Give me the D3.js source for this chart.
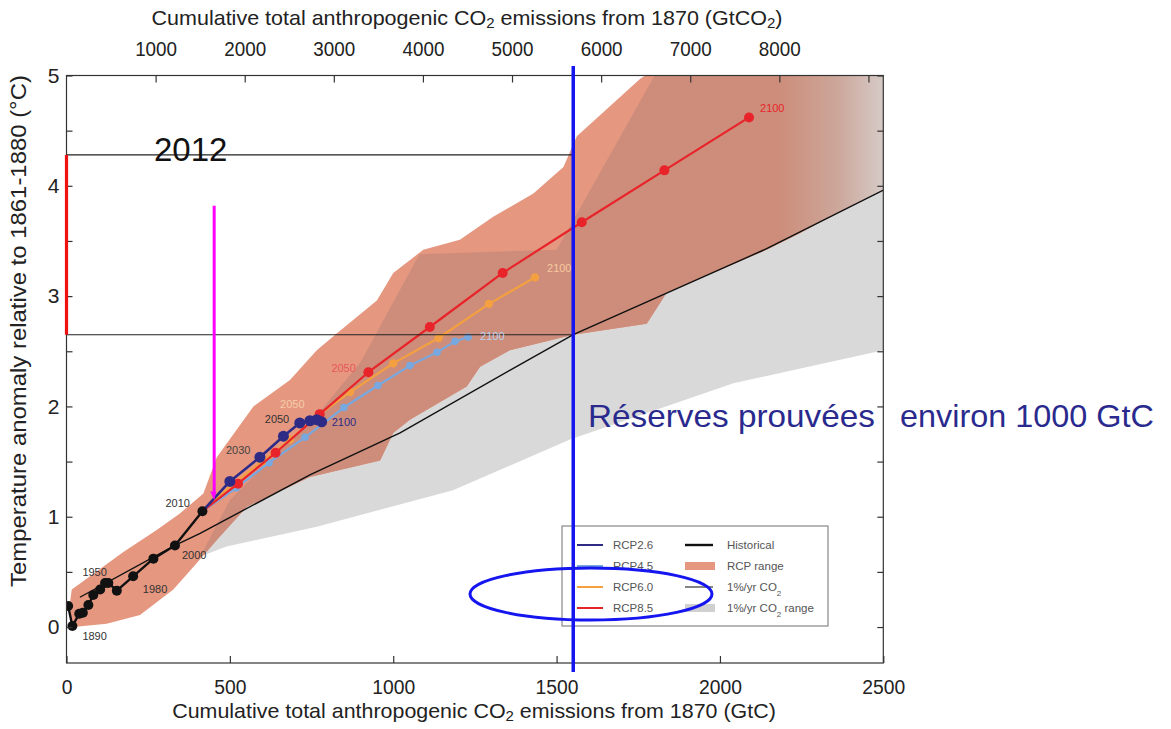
<!DOCTYPE html>
<html>
<head>
<meta charset="utf-8">
<script src="https://cdn.jsdelivr.net/npm/d3@7"></script>
<style>
  html, body { margin: 0; padding: 0; background: #fff; }
  svg { display: block; font-family: "Liberation Sans", Arial, Helvetica, sans-serif; }
</style>
</head>
<body>
<script>
// ---- data (cumulative CO2 since 1870 in GtC, temperature anomaly in °C) ----
const xTicksGtC = [0, 500, 1000, 1500, 2000, 2500];
const xTicksGtCO2 = [1000, 2000, 3000, 4000, 5000, 6000, 7000, 8000, 9000];
const xLabelsGtCO2 = ["1000", "2000", "3000", "4000", "5000", "6000", "7000", "8000", ""];
const yTicks = [0, 0.5, 1, 1.5, 2, 2.5, 3, 3.5, 4, 4.5, 5];

const historical = [[5, 0.19], [18, 0.01], [39, 0.12], [50, 0.13], [67, 0.20], [82, 0.29],
  [103, 0.34], [118, 0.40], [128, 0.40], [154, 0.33], [204, 0.46], [266, 0.62], [332, 0.74], [416, 1.05]];

const rcp26 = [[416, 1.05], [500, 1.32], [592, 1.54], [664, 1.73], [714, 1.85], [745, 1.87], [766, 1.88], [781, 1.86]];
const rcp45 = [[416, 1.05], [519, 1.26], [620, 1.49], [730, 1.72], [849, 1.99], [953, 2.19], [1051, 2.37],
  [1134, 2.49], [1189, 2.59], [1229, 2.63]];
const rcp60 = [[416, 1.05], [507, 1.29], [598, 1.50], [684, 1.70], [770, 1.92], [868, 2.13], [1000, 2.39],
  [1139, 2.62], [1293, 2.93], [1434, 3.17]];
const rcp85 = [[416, 1.05], [525, 1.30], [640, 1.58], [775, 1.93], [924, 2.31], [1112, 2.72], [1335, 3.21],
  [1577, 3.67], [1830, 4.14], [2089, 4.62]];

const onePercent = [[41, 0.27], [332, 0.74], [409, 0.85], [745, 1.38], [1021, 1.76], [1358, 2.33],
  [1551, 2.65], [2143, 3.43], [2500, 3.96]];

// RCP range envelope
const rcpUpper = [[16, 0.34], [72, 0.46], [174, 0.68], [276, 0.88], [347, 1.03], [419, 1.21], [460, 1.54],
  [572, 2.00], [684, 2.24], [766, 2.51], [827, 2.66], [950, 2.96], [1000, 3.21], [1092, 3.42], [1204, 3.51],
  [1306, 3.72], [1429, 3.93], [1521, 4.17], [1562, 4.45], [1756, 4.97], [1939, 5.32], [2500, 5.6]];
const rcpLower = [[8, 0.16], [21, 0.00], [123, 0.03], [225, 0.11], [327, 0.34], [399, 0.58], [460, 0.79],
  [552, 1.09], [745, 1.36], [960, 1.51], [1000, 1.76], [1051, 1.88], [1225, 2.18], [1266, 2.36], [1357, 2.51],
  [1551, 2.65], [1776, 2.75], [1837, 3.03], [2143, 3.42], [2245, 3.57], [2500, 3.98]];

// 1%/yr CO2 range envelope
const pctUpper = [[409, 0.64], [500, 1.15], [600, 1.45], [760, 1.90], [900, 2.40], [1080, 3.38],
  [1500, 3.42], [1800, 5.0], [1850, 5.5], [2500, 5.6]];
const pctLower = [[409, 0.64], [490, 0.73], [766, 0.91], [1183, 1.24], [1541, 1.70], [2041, 2.21], [2500, 2.51]];

const reservesGtC = 1551;
const markerGtC = 452;
const markerRange = [1.15, 3.82];
const levelLines = [2.65, 4.28];

const pointLabels = [
  { text: "1890", at: [18, 0.01], dx: 10, dy: 14, color: "#333" },
  { text: "1950", at: [18, 0.50], dx: 10, dy: 4, color: "#333" },
  { text: "1980", at: [154, 0.33], dx: 26, dy: 2, color: "#333" },
  { text: "2000", at: [332, 0.74], dx: 7, dy: 14, color: "#333" },
  { text: "2010", at: [416, 1.05], dx: -37, dy: -4, color: "#333" },
  { text: "2030", at: [592, 1.54], dx: -34, dy: -3, color: "#444" },
  { text: "2050", at: [714, 1.85], dx: -35, dy: 0, color: "#333" },
  { text: "2100", at: [781, 1.86], dx: 10, dy: 4, color: "#2e2b87" },
  { text: "2050", at: [924, 2.31], dx: -37, dy: 0, color: "#e8585a" },
  { text: "2050", at: [770, 1.92], dx: -38, dy: -7, color: "#f6cda6" },
  { text: "2100", at: [2089, 4.62], dx: 11, dy: -5, color: "#e8242a" },
  { text: "2100", at: [1434, 3.17], dx: 12, dy: -5, color: "#f8c9a0" },
  { text: "2100", at: [1229, 2.63], dx: 12, dy: 3, color: "#b9d2ee" }
];

const legendLeft = ["RCP2.6", "RCP4.5", "RCP6.0", "RCP8.5"];
const legendLeftColors = ["#2e2b87", "#78a8e0", "#f4a040", "#e8242a"];

// ---- layout ----
const W = 1171, H = 729;
const x = d3.scaleLinear().domain([0, 2500]).range([66.5, 883.3]);
const xTop = d3.scaleLinear().domain([0, 2500 * 44 / 12]).range([66.5, 883.3]);
const y = d3.scaleLinear().domain([-0.326, 5]).range([663, 75.5]);
const [L, R] = x.range();
const [B, T] = y.range();

const pink = "rgb(229,151,128)";
const gray = "#d9d9d9";

const svg = d3.select("body").append("svg").attr("width", W).attr("height", H);
svg.append("rect").attr("width", W).attr("height", H).attr("fill", "#fff");

const line = d3.line().x(d => x(d[0])).y(d => y(d[1]));
const rcpPath = line(rcpUpper.concat(rcpLower.slice().reverse())) + "Z";
const pctPath = line(pctUpper.concat(pctLower.slice().reverse())) + "Z";

const defs = svg.append("defs");
defs.append("clipPath").attr("id", "plotClip")
  .append("rect").attr("x", L).attr("y", T).attr("width", R - L).attr("height", B - T);
defs.append("clipPath").attr("id", "rcpClip").append("path").attr("d", rcpPath);
const fade = defs.append("linearGradient").attr("id", "overlapFade")
  .attr("gradientUnits", "userSpaceOnUse")
  .attr("x1", x(2180)).attr("x2", x(2500)).attr("y1", 0).attr("y2", 0);
fade.append("stop").attr("offset", 0).attr("stop-color", "rgb(205,141,122)");
fade.append("stop").attr("offset", 0.55).attr("stop-color", "rgb(204,166,154)");
fade.append("stop").attr("offset", 1).attr("stop-color", "rgb(214,202,198)");

const plot = svg.append("g").attr("clip-path", "url(#plotClip)");

// envelopes: 1%/yr range, RCP range, and their overlap
plot.append("path").attr("d", pctPath).attr("fill", gray);
plot.append("path").attr("d", rcpPath).attr("fill", pink);
plot.append("g").attr("clip-path", "url(#rcpClip)")
  .append("path").attr("d", pctPath).attr("fill", "url(#overlapFade)");

// 1%/yr CO2 idealised run
plot.append("path").attr("d", line(onePercent))
  .attr("fill", "none").attr("stroke", "#111").attr("stroke-width", 1.4);

// reference levels
levelLines.forEach(v => {
  svg.append("line").attr("x1", L).attr("x2", x(reservesGtC))
    .attr("y1", y(v)).attr("y2", y(v)).attr("stroke", "#222").attr("stroke-width", 1.1);
});

// scenario pathways
function series(data, color, width, r) {
  plot.append("path").attr("d", line(data))
    .attr("fill", "none").attr("stroke", color).attr("stroke-width", width)
    .attr("stroke-linejoin", "round");
  plot.selectAll(null).data(data.slice(1)).join("circle")
    .attr("cx", d => x(d[0])).attr("cy", d => y(d[1])).attr("r", r).attr("fill", color);
}
series(rcp45, "#78a8e0", 2.2, 3.8);
series(rcp60, "#f4a040", 2.2, 4.2);
series(rcp85, "#e8242a", 2.2, 5);
series(rcp26, "#2e2b87", 2.6, 5.5);

// observations
plot.append("path").attr("d", line(historical))
  .attr("fill", "none").attr("stroke", "#111").attr("stroke-width", 2.4).attr("stroke-linejoin", "round");
plot.selectAll(null).data(historical).join("circle")
  .attr("cx", d => x(d[0])).attr("cy", d => y(d[1])).attr("r", 5).attr("fill", "#111");

// year labels
svg.selectAll(null).data(pointLabels).join("text")
  .attr("x", d => x(d.at[0]) + d.dx).attr("y", d => y(d.at[1]) + d.dy)
  .attr("font-size", 11).attr("fill", d => d.color)
  .text(d => d.text);

// frame
svg.append("rect").attr("x", L).attr("y", T).attr("width", R - L).attr("height", B - T)
  .attr("fill", "none").attr("stroke", "#333").attr("stroke-width", 1.2);

// axes
const axB = svg.append("g").attr("transform", `translate(0,${B})`)
  .call(d3.axisBottom(x).tickValues(xTicksGtC).tickSizeInner(-7).tickSizeOuter(0).tickPadding(16).tickFormat(d3.format("d")));
const axT = svg.append("g").attr("transform", `translate(0,${T})`)
  .call(d3.axisTop(xTop).tickValues(xTicksGtCO2).tickSizeInner(-7).tickSizeOuter(0).tickPadding(20)
    .tickFormat((d, i) => xLabelsGtCO2[i]));
const axL = svg.append("g").attr("transform", `translate(${L},0)`)
  .call(d3.axisLeft(y).tickValues(yTicks).tickSizeInner(-6).tickSizeOuter(0).tickPadding(7)
    .tickFormat(d => Number.isInteger(d) ? d : ""));
const axR = svg.append("g").attr("transform", `translate(${R},0)`)
  .call(d3.axisRight(y).tickValues(yTicks).tickSizeInner(-6).tickSizeOuter(0).tickFormat(""));
[axB, axT, axL, axR].forEach(a => {
  a.select(".domain").remove();
  a.selectAll(".tick line").attr("stroke", "#333").attr("stroke-width", 1.2);
  a.selectAll("text").attr("font-family", "Liberation Sans, Arial, sans-serif").attr("fill", "#222");
});
axB.selectAll("text").attr("font-size", 21).attr("transform", "scale(0.92,1)");
axT.selectAll("text").attr("font-size", 20.5).attr("transform", "scale(0.92,1)");
axL.selectAll("text").attr("font-size", 21);

// titles (scaled to their set widths)
function fitted(parent, parts, size, cx, cy, width, rot) {
  const t = parent.append("text").attr("text-anchor", "middle").attr("font-size", size).attr("fill", "#222");
  parts.forEach(p => {
    const s = t.append("tspan").text(p.t);
    if (p.sub) s.attr("baseline-shift", "-20%").attr("font-size", size * 0.7);
  });
  const natural = t.node().getComputedTextLength();
  t.attr("transform", `translate(${cx},${cy}) rotate(${rot || 0}) scale(${width / natural},1)`);
  return t;
}
fitted(svg, [{ t: "Cumulative total anthropogenic CO" }, { t: "2", sub: true }, { t: " emissions from 1870 (GtC)" }],
  21, 474, 718, 604);
fitted(svg, [{ t: "Cumulative total anthropogenic CO" }, { t: "2", sub: true }, { t: " emissions from 1870 (GtCO" },
  { t: "2", sub: true }, { t: ")" }], 21, 467, 25, 631);
fitted(svg, [{ t: "Temperature anomaly relative to 1861-1880 (°C)" }], 22, 26, 331, 512, -90);

// highlighted interval on the temperature axis
svg.append("line").attr("x1", L).attr("x2", L).attr("y1", y(levelLines[0])).attr("y2", y(levelLines[1]))
  .attr("stroke", "#f01010").attr("stroke-width", 3.2);

// 2012 marker
const mx = x(markerGtC);
svg.append("line").attr("x1", mx).attr("x2", mx).attr("y1", y(markerRange[1])).attr("y2", y(markerRange[0]) - 6)
  .attr("stroke", "#ff00ff").attr("stroke-width", 3);
svg.append("path")
  .attr("d", `M${mx - 4},${y(markerRange[0]) - 9} L${mx + 2},${y(markerRange[0]) - 8} L${mx},${y(markerRange[0])} Z`)
  .attr("fill", "#ff00ff");
svg.append("text").attr("x", 154).attr("y", 161).attr("font-size", 33).attr("fill", "#111").text("2012");

// legend
const lg = svg.append("g");
lg.append("rect").attr("x", 562).attr("y", 526).attr("width", 266).attr("height", 100)
  .attr("fill", "#fff").attr("stroke", "#888").attr("stroke-width", 1.2);
const rowY = [545, 566, 587, 608];
legendLeft.forEach((name, i) => {
  lg.append("line").attr("x1", 577).attr("x2", 603).attr("y1", rowY[i]).attr("y2", rowY[i])
    .attr("stroke", legendLeftColors[i]).attr("stroke-width", 2);
  lg.append("text").attr("x", 613).attr("y", rowY[i] + 4).attr("font-size", 11.5).attr("fill", "#555").text(name);
});
lg.append("line").attr("x1", 685).attr("x2", 713).attr("y1", rowY[0]).attr("y2", rowY[0])
  .attr("stroke", "#111").attr("stroke-width", 2.4);
lg.append("rect").attr("x", 685).attr("y", rowY[1] - 4).attr("width", 30).attr("height", 8).attr("fill", pink);
lg.append("line").attr("x1", 685).attr("x2", 713).attr("y1", rowY[2]).attr("y2", rowY[2])
  .attr("stroke", "#333").attr("stroke-width", 1.2);
lg.append("rect").attr("x", 685).attr("y", rowY[3] - 4).attr("width", 30).attr("height", 8).attr("fill", "#d0d0d0");
function legendText(parts, i) {
  const t = lg.append("text").attr("x", 727).attr("y", rowY[i] + 4).attr("font-size", 11.5).attr("fill", "#555");
  parts.forEach(p => {
    const s = t.append("tspan").text(p.t);
    if (p.sub) s.attr("baseline-shift", "sub").attr("font-size", 8);
  });
}
legendText([{ t: "Historical" }], 0);
legendText([{ t: "RCP range" }], 1);
legendText([{ t: "1%/yr CO" }, { t: "2", sub: true }], 2);
legendText([{ t: "1%/yr CO" }, { t: "2", sub: true }, { t: " range" }], 3);

// proven reserves line and annotation
svg.append("line").attr("x1", x(reservesGtC)).attr("x2", x(reservesGtC)).attr("y1", 66).attr("y2", 672)
  .attr("stroke", "#1515f0").attr("stroke-width", 3.5);
svg.append("ellipse").attr("cx", 591).attr("cy", 594).attr("rx", 121).attr("ry", 26)
  .attr("fill", "none").attr("stroke", "#1515f0").attr("stroke-width", 3);

function placed(str, x0, base, size, width, color) {
  const t = svg.append("text").attr("font-size", size).attr("fill", color).text(str);
  const natural = t.node().getComputedTextLength();
  t.attr("transform", `translate(${x0},${base}) scale(${width / natural},1)`);
}
placed("Réserves prouvées", 588, 427, 32, 287, "#2a2a8e");
placed("environ 1000 GtC", 900, 427, 32, 254, "#2a2a8e");
</script>
</body>
</html>
